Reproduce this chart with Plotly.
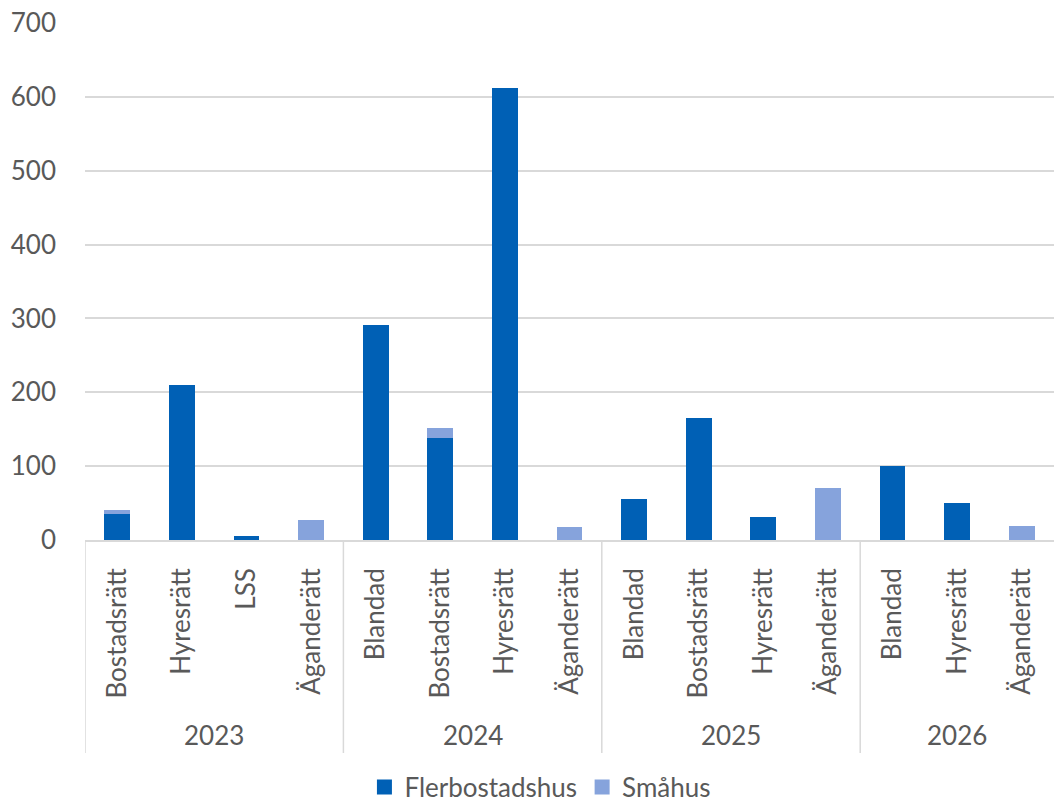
import plotly.graph_objects as go

# Completed dwellings by tenure and year, split by building type
years = ["2023", "2024", "2025", "2026"]
year_sizes = [4, 4, 4, 3]
tenures = [
    "Bostadsrätt", "Hyresrätt", "LSS", "Äganderätt",
    "Blandad", "Bostadsrätt", "Hyresrätt", "Äganderätt",
    "Blandad", "Bostadsrätt", "Hyresrätt", "Äganderätt",
    "Blandad", "Hyresrätt", "Äganderätt",
]
flerbostadshus = [35, 210, 6, 0, 291, 138, 612, 0, 56, 165, 31, 0, 100, 50, 0]
smahus = [5, 0, 0, 27, 0, 14, 0, 17, 0, 0, 0, 71, 0, 0, 19]

DARK = "#0060B5"
LIGHT = "#86A3DC"
GRID = "#D9D9D9"
TEXT = "#595959"
FONT = "Lato, 'Open Sans', sans-serif"
FS = 26

pos = list(range(len(tenures)))

fig = go.Figure()
for name, vals, col in [("Flerbostadshus", flerbostadshus, DARK),
                        ("Småhus", smahus, LIGHT)]:
    fig.add_trace(go.Bar(
        x=pos, y=vals, name=name, legendgroup=name, showlegend=False,
        marker=dict(color=col, line=dict(width=0)),
    ))
    # legend entry with a larger square swatch
    fig.add_trace(go.Scatter(
        x=[None], y=[None], mode="markers", name=name, legendgroup=name,
        marker=dict(symbol="square", size=15, color=col),
    ))

# Year group labels and vertical dividers below the axis
start = 0
bounds = [-0.5]
for yr, n in zip(years, year_sizes):
    mid = start + (n - 1) / 2
    fig.add_annotation(
        x=mid, y=-0.377, xref="x", yref="paper", text=yr, showarrow=False,
        font=dict(size=FS, color=TEXT, family=FONT), yanchor="middle",
    )
    start += n
    bounds.append(start - 0.5)
for b in bounds[:-1]:
    fig.add_shape(
        type="line", x0=b, x1=b, y0=0, y1=-0.412, xref="x", yref="paper",
        line=dict(color=GRID, width=1.5), layer="below",
    )

fig.update_layout(
    width=1054, height=807,
    barmode="stack", bargap=0.6,
    plot_bgcolor="white", paper_bgcolor="white",
    margin=dict(l=85, r=0, t=23, b=267, autoexpand=False),
    font=dict(family=FONT, size=FS, color=TEXT),
    legend=dict(
        orientation="h", x=0.47, xanchor="center", y=-0.478, yanchor="middle",
        font=dict(size=26, color=TEXT), itemwidth=30,
        traceorder="normal", tracegroupgap=0,
    ),
    showlegend=True,
)
fig.update_yaxes(
    range=[0, 700], dtick=100, showgrid=True, gridcolor=GRID, gridwidth=1.5,
    zeroline=False, showline=False, ticks="", ticklabelstandoff=28,
    tickfont=dict(size=FS, color=TEXT),
)
fig.update_xaxes(
    range=[-0.5, len(tenures) - 0.5], tickmode="array", tickvals=pos,
    ticktext=tenures, tickangle=-90, showline=True, linecolor=GRID,
    linewidth=1.5, showgrid=False, zeroline=False, ticks="",
    ticklabelstandoff=16, tickfont=dict(size=FS, color=TEXT),
)

fig.write_html("out.html")
